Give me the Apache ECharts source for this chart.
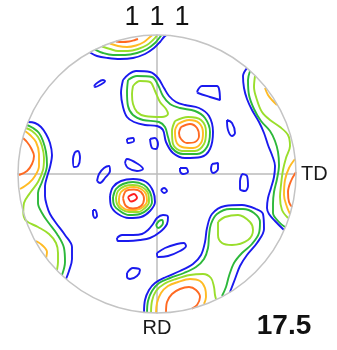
<!DOCTYPE html>
<html>
<head>
<meta charset="utf-8">
<title>{111} pole figure</title>
<script src="https://cdn.jsdelivr.net/npm/echarts@6/dist/echarts.min.js"></script>
<style>
html, body { margin: 0; padding: 0; background: #ffffff; }
#chart { width: 337px; height: 350px; }
</style>
</head>
<body>
<div id="chart"></div>
<script>
// Projection radius in plot units; x points toward TD, y toward RD.
const R = 139;
const poleIndices = ['1', '1', '1'];
const maxIntensity = '17.5';

// ---- top rim (near the RD-opposite pole) ----
const topBlue   = [[-67,-121.5],[-60,-118],[-49,-116],[-37,-115],[-24,-116],[-12,-120],[-3,-126],[3,-132],[7,-137],[9,-138.5]];
const topGreen  = [[-62,-124.5],[-54,-121],[-44,-119],[-32,-119],[-20,-121],[-10,-125],[-2,-131],[3,-137],[4,-138.5]];
const topLight  = [[-55,-127.5],[-47,-125],[-39,-123],[-29,-123],[-19,-125],[-10,-129],[-4,-134],[0,-138.5]];
const topYellow = [[-47,-130.5],[-39,-128],[-30,-127],[-21,-128.5],[-13,-132],[-7,-137],[-5,-138.5]];
const topOrange = [[-41,-132.5],[-35,-132],[-28,-132.5],[-22,-134],[-19,-135]];

// ---- left rim ----
const leftBlue   = [[-129,-52],[-122,-51],[-116,-47],[-111,-40],[-107,-31],[-105,-19],[-107,-7],[-110,3],[-112,12],[-112,22],[-110,32],[-107,40],[-101,49],[-92,61],[-85,73],[-85,85],[-88,97],[-91,105]];
const leftGreen  = [[-130,-49],[-124,-46],[-118,-41],[-114,-33],[-111,-22],[-110,-9],[-115,8],[-119,19],[-119,29],[-115,39],[-109,48],[-100,60],[-93,74],[-92,88],[-95,101]];
const leftLight  = [[-131,-46],[-125,-43],[-119,-37],[-115,-28],[-113,-16],[-114,-4],[-119,8],[-127,19],[-133,29],[-134,38],[-132,47],[-119,53],[-108,60],[-101,69],[-99,79],[-99,88],[-100,96]];
const leftYellow = [[-132,-43],[-127,-39],[-121,-32],[-118,-20],[-118,-8],[-122,2],[-128,9],[-137,15]];
const leftOrange = [[-134,-36],[-130,-32],[-126,-26],[-123,-18],[-125,-10],[-130,-3],[-138,1]];
const leftYellowSpot = [[-121,67],[-115,71],[-110,78],[-111,84]];

// ---- right rim (TD side) ----
const rightBlue   = [[90,-106],[86,-98],[87,-86],[90,-75],[95,-64],[102,-52],[107,-41],[111,-29],[115,-19],[118,-8],[117,3],[114,14],[111,24],[110,34],[112,40],[118,47],[127,56]];
const rightGreen  = [[93,-103],[91,-94],[92,-79],[97,-65],[104,-53],[113,-43],[118,-33],[121,-22],[122,-9],[120,5],[117,18],[116,30],[116,39],[122,48],[128,53]];
const rightLight  = [[98,-98],[97,-87],[100,-74],[105,-62],[113,-54],[123,-47],[131,-39],[133,-28],[129,-16],[126,-4],[124,11],[123,23],[125,36],[131,44]];
const rightYellow = [[138,-15],[132,-6],[128,6],[127,21],[130,33],[133,40]];
const rightOrange = [[139,-2],[134,7],[131,18],[132,28],[135,33]];
const rightYellowArc = [[108,-86],[111,-79],[115,-74],[120,-69]];

// ---- lower-right lobe (near RD) ----
const lrBlue   = [[-13,138],[-12,126],[-8,116],[-2,109],[9,103],[23,97],[36,90],[44,81],[48,68],[50,54],[55,40],[68,32],[85,31],[99,35],[106,40],[107,55],[100,69],[90,81],[83,92],[78,105],[73,118]];
const lrGreen  = [[-10,139],[-9,127],[-5,117],[2,109],[13,104],[27,99],[39,93],[47,85],[51,74],[52,62],[54,50],[60,40],[73,35],[86,35],[97,39],[103,48],[102,59],[95,70],[85,79],[77,89],[72,102],[69,113],[65,122]];
const lrLightRing = [[61,48],[68,43],[81,41],[93,48],[96,56],[91,66],[75,71],[65,69],[61,61],[61,48]];
const lrLight  = [[-6,139],[-5,127],[-1,117],[7,110],[19,105],[33,101],[46,100],[54,104],[57,113],[58,121],[59,125]];
const lrYellow = [[-1,139],[0,129],[4,119],[11,112],[21,108],[33,105],[43,107],[48,114],[49,123],[47,130]];
const lrOrange = [[9,138.5],[10,128],[15,120],[23,115],[32,113],[39,116],[43,123],[40,131],[35,135]];

// ---- upper ridge with the round peak ----
const umBlue  = [[-34,-94],[-28,-100],[-21,-103],[-7,-102],[1,-96],[7,-86],[12,-78],[19,-72],[28,-69],[42,-66],[52,-58],[56,-42],[53,-25],[44,-17],[28,-16],[16,-21],[9,-32],[6,-44],[0,-48],[-12,-49],[-23,-52],[-30,-57],[-34,-67],[-36,-81],[-34,-94]];
const umGreen = [[-29,-94],[-20,-98],[-5,-97],[1,-89],[6,-78],[13,-70],[23,-66],[38,-63],[48,-56],[53,-42],[50,-27],[40,-20],[26,-20],[15,-26],[11,-37],[8,-47],[2,-52],[-14,-54],[-24,-59],[-29,-68],[-30,-82],[-29,-94]];
const umLight = [[-24,-88],[-17,-93],[-7,-92],[-2,-83],[3,-72],[9,-65],[11,-60],[5,-57],[-12,-58],[-20,-62],[-24,-70],[-25,-80],[-24,-88]];
const umLightRound = [[18,-53],[31,-57],[44,-54],[49,-42],[47,-30],[38,-23],[25,-23],[16,-30],[15,-43],[18,-53]];
const umYellow = [[21,-50],[32,-54],[42,-51],[46,-41],[44,-31],[36,-26],[25,-27],[19,-33],[18,-43],[21,-50]];
const umOrange = [[24,-47],[33,-50],[40,-46],[42,-38],[38,-32],[30,-31],[24,-35],[22,-41],[24,-47]];

// ---- central peak, left of the origin ----
const clBlue   = [[-47,22],[-44,13],[-36,7],[-24,5],[-11,8],[-4,17],[-2,28],[-7,37],[-16,43],[-28,44],[-39,40],[-46,32],[-47,22]];
const clGreen  = [[-44,23],[-41,15],[-34,10],[-24,8],[-13,11],[-7,18],[-5,28],[-9,35],[-17,40],[-28,41],[-37,37],[-43,31],[-44,23]];
const clLight  = [[-41,24],[-39,17],[-32,12],[-24,11],[-15,13],[-9,19],[-8,28],[-12,34],[-19,38],[-28,38],[-36,35],[-40,30],[-41,24]];
const clYellow = [[-38,24],[-36,18],[-30,14],[-23,13],[-16,15],[-11,20],[-10,27],[-14,33],[-21,36],[-29,36],[-35,33],[-38,29],[-38,24]];
const clOrange = [[-34,24],[-31,17],[-23,15.5],[-16,18],[-13,25],[-16,32],[-24,34.5],[-31,32],[-34,24]];
const clRed    = [[-29,23],[-23,20],[-20,24],[-26,27.5],[-29,23]];

// ---- streak below the central peak ----
const streakBlue  = [[-40,64],[-35,61],[-24,61],[-15,60],[-9,56],[-4,50],[0,44],[6,41],[11,43],[10,50],[3,58],[-7,64],[-17,66],[-29,67],[-39,67],[-40,64]];
const streakGreen = [[-1,51],[2,47],[5,46],[6,49],[1,54],[-1,51]];

// ---- isolated low-level islands ----
const islands = [
  [[4,16],[7,14],[10,17],[7,19],[4,16]],
  [[-30,-35],[-24,-36],[-23,-33],[-29,-31],[-30,-35]],
  [[-7,-35],[-2,-36],[1,-30],[-1,-25],[-5,-26],[-7,-35]],
  [[-32,-11],[-30,-15],[-19,-10],[-14,-5],[-20,-3],[-29,-6],[-32,-11]],
  [[-60,7],[-58,0],[-53,-6],[-48,-8],[-47,-3],[-52,4],[-57,9],[-60,7]],
  [[-82,-22],[-79,-23],[-77,-16],[-79,-8],[-83,-7],[-84,-15],[-82,-22]],
  [[-64,36],[-62,36],[-60,42],[-62,44],[-64,40],[-64,36]],
  [[23,-6],[29,-6],[31,-2],[26,0],[23,-3],[23,-6]],
  [[55,-10],[61,-11],[61,-5],[56,-1],[54,-5],[55,-10]],
  [[70,-54],[75,-51],[78,-41],[75,-38],[71,-44],[70,-54]],
  [[85,0],[90,2],[91,12],[88,17],[83,15],[83,7],[85,0]],
  [[40,-82],[45,-88],[60,-88],[63,-74],[53,-77],[41,-81],[40,-82]],
  [[0,79],[8,74],[20,70],[27,69],[29,72],[23,77],[11,82],[1,83],[0,79]],
  [[-30,99],[-24,94],[-17,96],[-20,102],[-27,105],[-30,103],[-30,99]],
  [[-63,-88],[-60,-91],[-54,-94],[-52,-93],[-57,-89],[-62,-87],[-63,-88]]
];

// Contour levels, lowest to highest.
const levels = [
  { color: '#1a1aee', lines: [topBlue, leftBlue, rightBlue, lrBlue, umBlue, clBlue, streakBlue, ...islands] },
  { color: '#2cb83a', lines: [topGreen, leftGreen, rightGreen, lrGreen, umGreen, clGreen, streakGreen] },
  { color: '#9ade2c', lines: [topLight, leftLight, rightLight, lrLightRing, lrLight, umLight, umLightRound, clLight] },
  { color: '#ffbb24', lines: [topYellow, leftYellow, leftYellowSpot, rightYellow, rightYellowArc, lrYellow, umYellow, clYellow] },
  { color: '#ff6a22', lines: [topOrange, leftOrange, rightOrange, lrOrange, umOrange, clOrange] },
  { color: '#ff1e1e', lines: [clRed] }
];

// Keep every point inside the projection disc.
function clampToDisc(p) {
  const r = Math.hypot(p[0], p[1]);
  return r > R ? [p[0] * R / r, p[1] * R / r] : p;
}

const series = [];
levels.forEach((lvl, i) => {
  lvl.lines.forEach(line => {
    series.push({
      type: 'line',
      data: line.map(clampToDisc),
      symbol: 'none',
      smooth: 0.35,
      silent: true,
      z: 3 + i,
      lineStyle: { color: lvl.color, width: 1.9 }
    });
  });
});

const axisLineStyle = { color: '#bcbcbc', width: 1.5 };
const labelFont = { fontFamily: '"Liberation Sans", Arial, sans-serif', fontSize: 20, color: '#1a1a1a' };

const chart = echarts.init(document.getElementById('chart'));
chart.setOption({
  animation: false,
  grid: { left: 18, top: 35, width: 278, height: 278 },
  xAxis: {
    type: 'value', min: -R, max: R,
    axisLine: { show: true, onZero: true, lineStyle: axisLineStyle },
    axisTick: { show: false }, axisLabel: { show: false }, splitLine: { show: false },
    name: 'TD', nameLocation: 'end', nameGap: 5, nameTextStyle: labelFont
  },
  yAxis: {
    type: 'value', min: -R, max: R, inverse: true,
    axisLine: { show: true, onZero: true, lineStyle: axisLineStyle },
    axisTick: { show: false }, axisLabel: { show: false }, splitLine: { show: false },
    name: 'RD', nameLocation: 'end', nameGap: 5, nameTextStyle: labelFont
  },
  series: series
});

// Projection circle and titles, placed from the axes' own mapping.
const centre = chart.convertToPixel({ gridIndex: 0 }, [0, 0]);
const edge = chart.convertToPixel({ gridIndex: 0 }, [R, 0]);
const rPx = edge[0] - centre[0];
const graphics = [{
  type: 'circle', silent: true, z: 20,
  shape: { cx: centre[0], cy: centre[1], r: rPx },
  style: { fill: 'none', stroke: '#c4c4c4', lineWidth: 1.5 }
}];
poleIndices.forEach((t, k) => {
  graphics.push({
    type: 'text', silent: true, z: 20,
    x: centre[0] + (k - 1) * 25, y: centre[1] - rPx - 17,
    style: { text: t, font: '27px "Liberation Sans", Arial, sans-serif', fill: '#111111', align: 'center', verticalAlign: 'middle' }
  });
});
graphics.push({
  type: 'text', silent: true, z: 20,
  x: 284, y: 326,
  style: { text: maxIntensity, font: 'bold 28px "Liberation Sans", Arial, sans-serif', fill: '#111111', align: 'center', verticalAlign: 'middle' }
});
chart.setOption({ graphic: graphics });
</script>
</body>
</html>
